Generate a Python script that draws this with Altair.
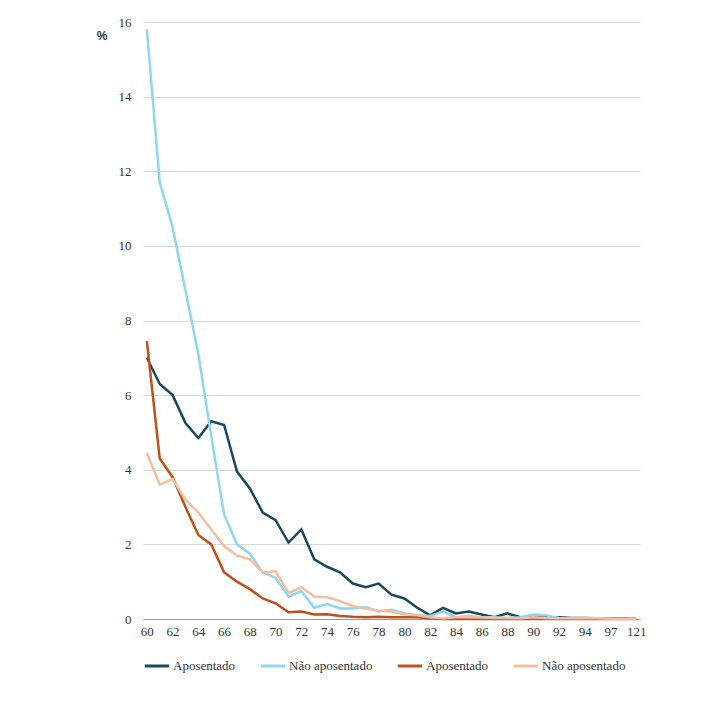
import altair as alt
import pandas as pd

ages = [str(a) for a in range(60, 95)] + ["95", "97", "100", "121"]

apos_1 = [7.0, 6.3, 6.0, 5.25, 4.85, 5.3, 5.2, 3.95, 3.5, 2.85, 2.65, 2.05, 2.4, 1.6, 1.4, 1.25,
          0.95, 0.85, 0.95, 0.65, 0.55, 0.3, 0.1, 0.3, 0.15, 0.2, 0.12, 0.05, 0.15, 0.05, 0.05,
          0.05, 0.05, 0.03, 0.03, 0.02, 0.02, 0.02, 0.01]
nao_1 = [15.8, 11.7, 10.5, 8.8, 7.1, 4.9, 2.8, 2.0, 1.75, 1.25, 1.1, 0.6, 0.75, 0.3, 0.4, 0.28,
         0.28, 0.32, 0.2, 0.25, 0.15, 0.1, 0.08, 0.2, 0.05, 0.08, 0.05, 0.05, 0.03, 0.05, 0.12,
         0.1, 0.03, 0.02, 0.02, 0.02, 0.01, 0.01, 0.01]
apos_2 = [7.45, 4.3, 3.8, 3.0, 2.25, 2.0, 1.25, 1.0, 0.8, 0.55, 0.42, 0.18, 0.2, 0.12, 0.13, 0.08,
          0.06, 0.05, 0.06, 0.05, 0.05, 0.05, 0.02, 0.0, 0.0, 0.01, 0.0, 0.0, 0.0, 0.0, 0.0,
          0.0, 0.0, 0.0, 0.0, 0.0, 0.0, 0.0, 0.0]
nao_2 = [4.45, 3.6, 3.75, 3.2, 2.85, 2.4, 1.95, 1.7, 1.6, 1.25, 1.28, 0.7, 0.85, 0.6, 0.58, 0.48,
         0.35, 0.28, 0.22, 0.2, 0.12, 0.1, 0.05, 0.02, 0.05, 0.05, 0.04, 0.03, 0.03, 0.02, 0.05,
         0.03, 0.02, 0.02, 0.02, 0.02, 0.01, 0.01, 0.01]

series = {"A1": apos_1, "N1": nao_1, "A2": apos_2, "N2": nao_2}
colors = ["#17485c", "#8fd6f2", "#c0501a", "#f6bea0"]

rows = []
for key, vals in series.items():
    for i, (a, v) in enumerate(zip(ages, vals)):
        rows.append({"idade": a, "valor": v, "serie": key, "ord": i})
df = pd.DataFrame(rows)

SERIF = "Liberation Serif, DejaVu Serif, serif"
label_expr = "indexof(['A1','A2'], datum.value) >= 0 ? 'Aposentado' : 'Não aposentado'"
tick_expr = "indexof(" + str(ages[::2]) + ", datum.value) >= 0 ? datum.value : ''"

chart = (
    alt.Chart(df)
    .mark_line(strokeWidth=2.5)
    .encode(
        x=alt.X("idade:O", sort=ages, title=None,
                scale=alt.Scale(type="point", padding=0.3),
                axis=alt.Axis(labelAngle=0, labelExpr=tick_expr, ticks=False,
                              domainColor="#999", labelFont=SERIF,
                              labelFontSize=13, labelColor="#333", labelPadding=6)),
        y=alt.Y("valor:Q", scale=alt.Scale(domain=[0, 16]),
                axis=alt.Axis(values=list(range(0, 17, 2)), grid=True, gridColor="#d9d9d9",
                              domain=False, ticks=False, labelFont=SERIF,
                              labelFontSize=13, labelColor="#333", labelPadding=12,
                              title="%", titleAngle=0, titleAnchor="end", titleAlign="right",
                              titleX=-36, titleY=20, titleFont="Liberation Sans",
                              titleFontSize=12, titleColor="#333")),
        color=alt.Color("serie:N", sort=["A1", "N1", "A2", "N2"],
                        scale=alt.Scale(domain=["A1", "N1", "A2", "N2"], range=colors),
                        legend=alt.Legend(orient="bottom", direction="horizontal", title=None,
                                          labelExpr=label_expr, symbolType="stroke",
                                          symbolStrokeWidth=3, symbolSize=600,
                                          labelFont=SERIF, labelFontSize=13,
                                          labelOffset=2, labelColor="#333",
                                          columnPadding=18, offset=14)),
        order="ord:Q",
    )
    .properties(
        width=497, height=597,
        padding={"left": 135, "top": 14, "right": 70, "bottom": 90},
        autosize="none",
        title=alt.TitleParams("Fonte: Censo Demográfico de 2010 (dados da amostra).",
                              orient="bottom", anchor="start", dx=-121, offset=40,
                              font="Liberation Sans Narrow, Liberation Sans, sans-serif",
                              fontSize=12, fontWeight="normal", color="#333"),
    )
    .configure_view(stroke=None)
)

chart.save("out.html", embed_options={"renderer": "svg", "actions": False})
